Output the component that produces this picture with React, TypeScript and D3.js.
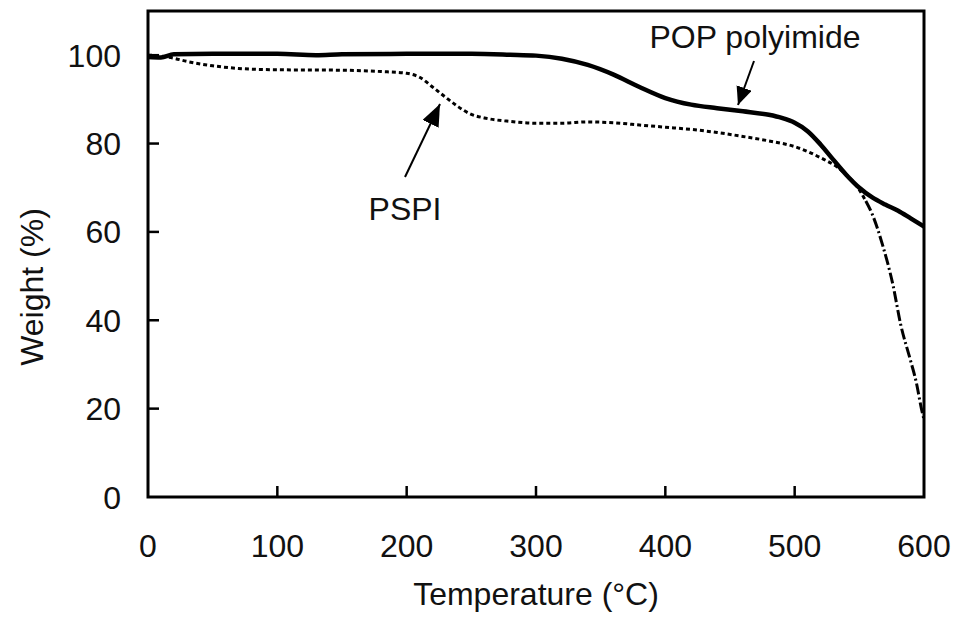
import React from "react";
import * as d3 from "d3";

const W = 954;
const H = 628;

const xTicks = [0, 100, 200, 300, 400, 500, 600];
const yTicks = [0, 20, 40, 60, 80, 100];

const popTemp = [0, 10, 20, 50, 100, 130, 150, 200, 250, 280, 300, 320, 340, 360, 380, 400, 420, 440, 460, 480, 490, 500, 510, 520, 530, 540, 550, 560, 570, 580, 590, 600];
const popWeight = [99.6, 99.5, 100.2, 100.3, 100.3, 100.0, 100.2, 100.3, 100.3, 100.1, 99.9, 99.2, 97.8, 95.6, 92.8, 90.3, 88.8, 88.0, 87.3, 86.5, 85.8, 84.7, 82.8, 79.8, 76.3, 72.9, 70.0, 67.8, 66.2, 64.8, 63.0, 61.2];

const pspiTemp = [0, 10, 20, 30, 50, 70, 100, 150, 180, 200, 210, 220, 230, 240, 250, 260, 280, 300, 320, 340, 360, 380, 400, 420, 440, 460, 480, 500, 520, 535, 550, 555];
const pspiWeight = [100, 99.8, 99.3, 98.6, 97.6, 97.0, 96.7, 96.6, 96.3, 95.9, 95.0, 92.8, 90.5, 88.3, 86.6, 85.8, 85.0, 84.6, 84.6, 84.9, 84.7, 84.2, 83.7, 83.2, 82.5, 81.6, 80.6, 79.3, 76.8, 74.2, 69.5, 67.0];

const pspiTailTemp = [555, 560, 568, 576, 582, 589, 594, 598, 600];
const pspiTailWeight = [67.0, 64.0, 57.0, 48.0, 39.0, 31.5, 26.0, 20.0, 17.5];

const labels = {
  x: "Temperature (°C)",
  y: "Weight (%)",
  pop: "POP polyimide",
  pspi: "PSPI",
};

export default function App() {
  const left = 148, right = 924, top = 11, bottom = 497;
  const x = d3.scaleLinear().domain([0, 600]).range([left, right]);
  const y = d3.scaleLinear().domain([0, 110]).range([bottom, top]);

  const line = d3
    .line<[number, number]>()
    .x((d) => x(d[0]))
    .y((d) => y(d[1]))
    .curve(d3.curveMonotoneX);

  const popPts = popTemp.map((t, i) => [t, popWeight[i]] as [number, number]);
  const pspiPts = pspiTemp.map((t, i) => [t, pspiWeight[i]] as [number, number]);
  const tailPts = pspiTailTemp.map((t, i) => [t, pspiTailWeight[i]] as [number, number]);

  const font = "'Liberation Sans', Arial, Helvetica, sans-serif";
  const fs = 32;

  return (
    <svg
      width={W}
      height={H}
      style={{ position: "absolute", left: 0, top: 0, background: "#fff" }}
      fontFamily={font}
    >
      <defs>
        <marker id="ah1" markerUnits="userSpaceOnUse" markerWidth="24" markerHeight="20" refX="22" refY="9" orient="auto">
          <path d="M0,0 L22,9 L0,18 Z" fill="#000" />
        </marker>
        <marker id="ah2" markerUnits="userSpaceOnUse" markerWidth="20" markerHeight="18" refX="18" refY="8" orient="auto">
          <path d="M0,0 L18,8 L0,16 Z" fill="#000" />
        </marker>
      </defs>
      <rect x={0} y={0} width={W} height={H} fill="#fff" />

      {/* frame */}
      <rect x={left} y={top} width={right - left} height={bottom - top} fill="none" stroke="#000" strokeWidth={3} />

      {/* x ticks */}
      {xTicks.map((t) => (
        <g key={"xt" + t}>
          {t > 0 && t < 600 && (
            <line x1={x(t)} x2={x(t)} y1={bottom} y2={bottom - 11} stroke="#000" strokeWidth={2.5} />
          )}
          <text x={x(t)} y={557} textAnchor="middle" fontSize={fs} fill="#111">
            {t}
          </text>
        </g>
      ))}

      {/* y ticks */}
      {yTicks.map((t) => (
        <g key={"yt" + t}>
          {t > 0 && (
            <line x1={left} x2={left + 11} y1={y(t)} y2={y(t)} stroke="#000" strokeWidth={2.5} />
          )}
          <text x={121} y={y(t)} dy="0.36em" textAnchor="end" fontSize={fs} fill="#111">
            {t}
          </text>
        </g>
      ))}

      {/* axis titles */}
      <text x={(left + right) / 2} y={605} textAnchor="middle" fontSize={fs} fill="#111">
        {labels.x}
      </text>
      <text
        transform={`translate(43, ${287}) rotate(-90)`}
        textAnchor="middle"
        fontSize={fs}
        fill="#111"
      >
        {labels.y}
      </text>

      {/* PSPI dotted */}
      <path d={line(pspiPts) || ""} fill="none" stroke="#000" strokeWidth={3} strokeDasharray="4,3" />
      <path d={line(tailPts) || ""} fill="none" stroke="#000" strokeWidth={3} strokeDasharray="11,3,2,3" />

      {/* POP solid */}
      <path d={line(popPts) || ""} fill="none" stroke="#000" strokeWidth={4.5} strokeLinejoin="round" />

      {/* annotations */}
      <line x1={405} y1={177} x2={440} y2={104} stroke="#000" strokeWidth={2} markerEnd="url(#ah1)" />
      <text x={405} y={220} textAnchor="middle" fontSize={fs} fill="#111">
        {labels.pspi}
      </text>

      <line x1={754} y1={61} x2={738} y2={105} stroke="#000" strokeWidth={2} markerEnd="url(#ah2)" />
      <text x={755} y={48} textAnchor="middle" fontSize={fs} fill="#111">
        {labels.pop}
      </text>
    </svg>
  );
}
